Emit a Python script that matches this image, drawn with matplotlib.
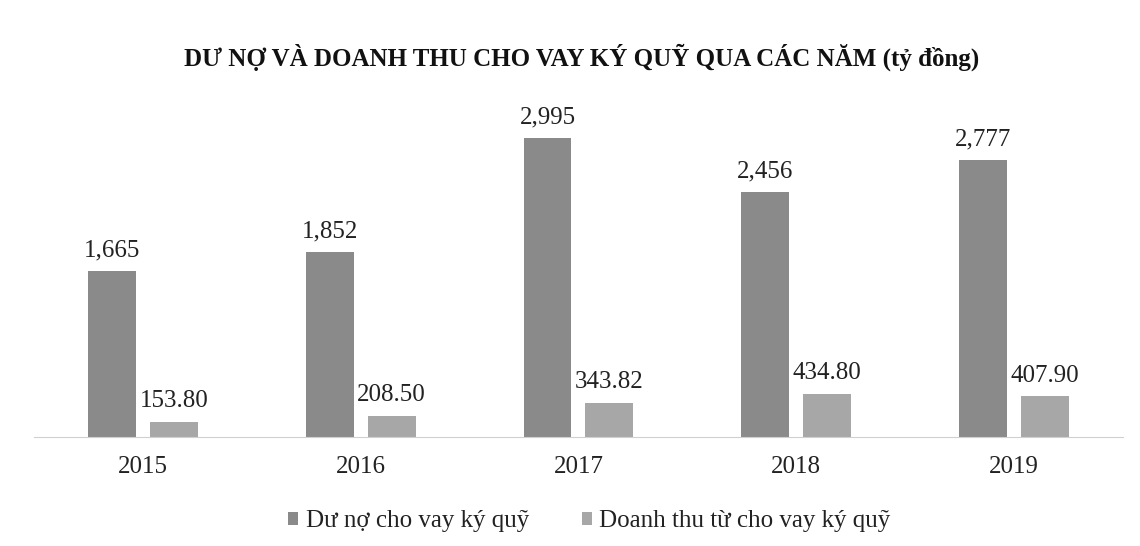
import numpy as np
import matplotlib.pyplot as plt

years = ["2015", "2016", "2017", "2018", "2019"]
du_no = [1665, 1852, 2995, 2456, 2777]
doanh_thu = [153.80, 208.50, 343.82, 434.80, 407.90]
du_no_labels = ["1,665", "1,852", "2,995", "2,456", "2,777"]
doanh_thu_labels = ["153.80", "208.50", "343.82", "434.80", "407.90"]

plt.rcParams['font.family'] = ['Liberation Serif', 'DejaVu Serif']

fig = plt.figure(figsize=(11.4, 5.46), dpi=100)
ax = fig.add_axes([0.0298, 0.1996, 0.9552, 0.6172])

x = np.arange(len(years))
w = 0.22
off = 0.142
b1 = ax.bar(x - off, du_no, w, color='#8a8a8a', label="Dư nợ cho vay ký quỹ")
b2 = ax.bar(x + off, doanh_thu, w, color='#a7a7a7', label="Doanh thu từ cho vay ký quỹ")
ax.bar_label(b1, labels=du_no_labels, padding=7, fontsize=18, color='#222222')
ax.bar_label(b2, labels=doanh_thu_labels, padding=7, fontsize=18, color='#222222')

ax.set_xlim(-0.5, len(years) - 0.5)
ax.set_ylim(0, 3375)
ax.set_xticks(x)
ax.set_xticklabels(years, fontsize=18, color='#222222')
ax.set_yticks([])
ax.tick_params(axis='x', length=0, pad=14)
for s in ['top', 'right', 'left']:
    ax.spines[s].set_visible(False)
ax.spines['bottom'].set_color('#d0d0d0')

fig.text(0.51, 0.896, "DƯ NỢ VÀ DOANH THU CHO VAY KÝ QUỸ QUA CÁC NĂM (tỷ đồng)",
         ha='center', va='center', fontsize=18, fontweight='bold', color='#111111')

fig.legend(loc='center', bbox_to_anchor=(0.517, 0.045), ncol=2, frameon=False,
           fontsize=18, handlelength=0.4, handleheight=0.4, handletextpad=0.3,
           columnspacing=2.1, labelcolor='#222222')

fig.savefig("out.png", dpi=100)
